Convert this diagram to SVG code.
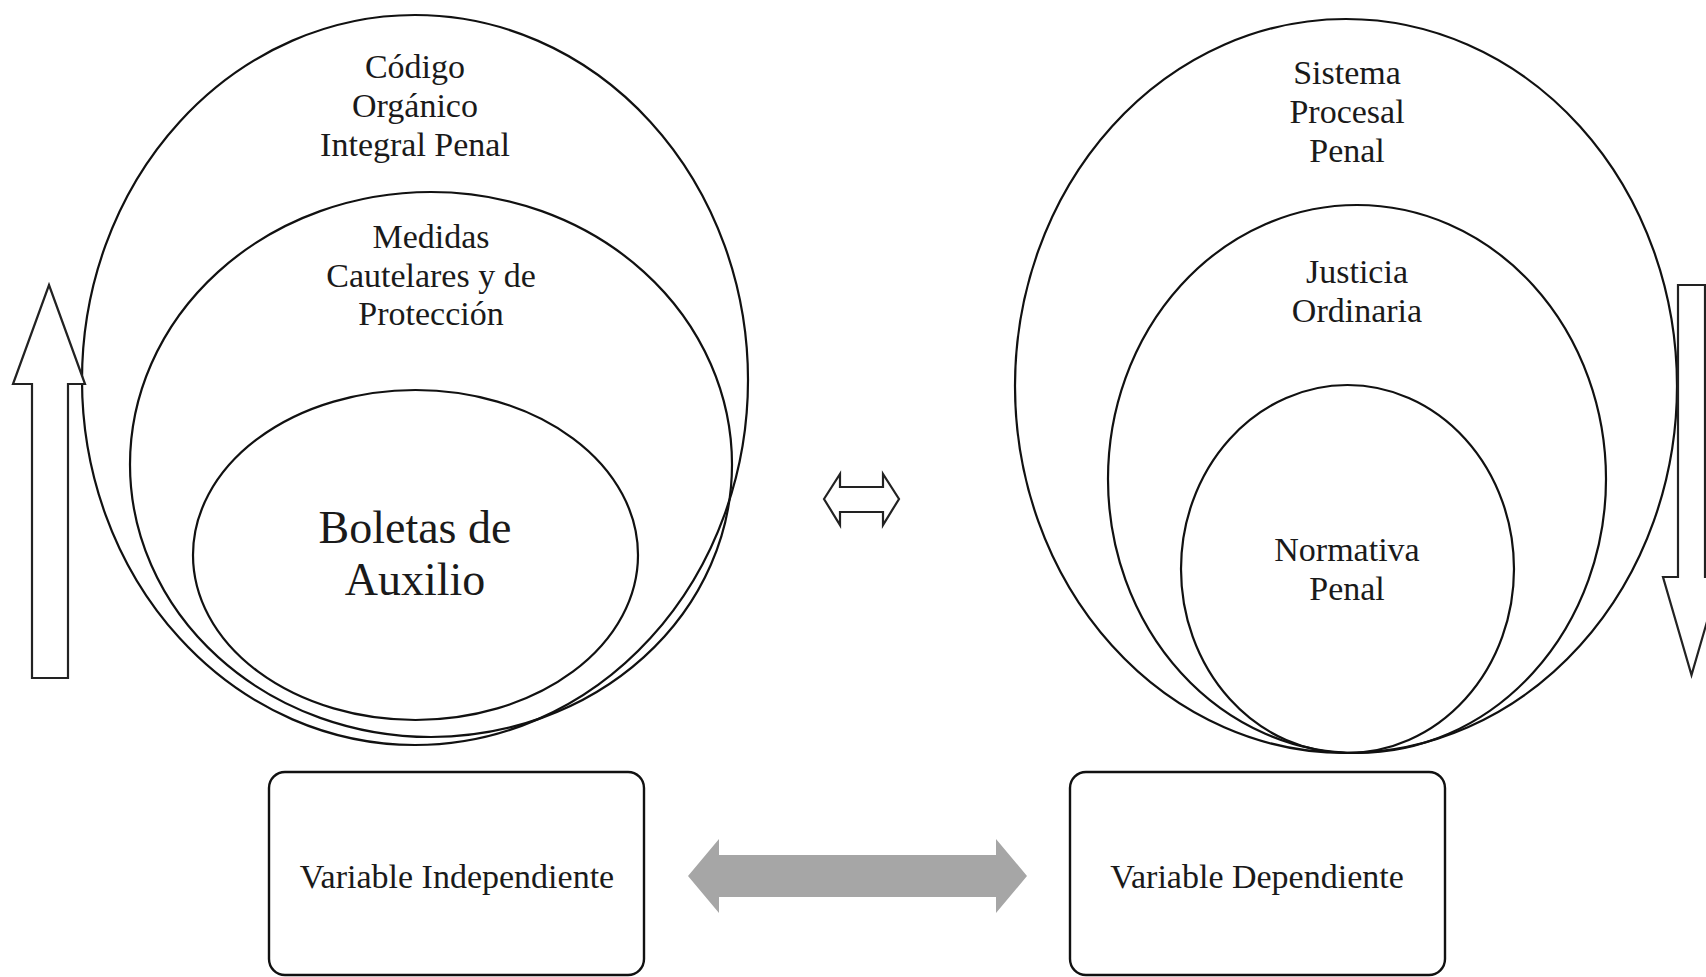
<svg xmlns="http://www.w3.org/2000/svg" width="1706" height="977" viewBox="0 0 1706 977">
<style>
.ring{fill:none;stroke:#111;stroke-width:2.2}
.box{fill:#fff;stroke:#111;stroke-width:2.4}
.hollow{fill:#fff;stroke:#222;stroke-width:2.2;stroke-linejoin:miter}
.t{font-family:"Liberation Serif","Times New Roman",serif;font-size:34px;fill:#1a1a1a;text-anchor:middle}
.big{font-size:46px}
</style>
<rect width="1706" height="977" fill="#fff"/>
<g id="left-rings">
  <g id="codigo"><ellipse class="ring" cx="415" cy="380" rx="333" ry="365"/>
    <text class="t" x="415" y="78">Código</text>
    <text class="t" x="415" y="117">Orgánico</text>
    <text class="t" x="415" y="156">Integral Penal</text></g>
  <g id="medidas"><ellipse class="ring" cx="431" cy="464.5" rx="301" ry="272.5"/>
    <text class="t" x="431" y="248">Medidas</text>
    <text class="t" x="431" y="287">Cautelares y de</text>
    <text class="t" x="431" y="325">Protección</text></g>
  <g id="boletas"><ellipse class="ring" cx="415.5" cy="555" rx="222.5" ry="165"/>
    <text class="t big" x="415" y="543">Boletas de</text>
    <text class="t big" x="415" y="595">Auxilio</text></g>
</g>
<g id="right-rings">
  <g id="sistema"><ellipse class="ring" cx="1346" cy="386" rx="331" ry="367"/>
    <text class="t" x="1347" y="84">Sistema</text>
    <text class="t" x="1347" y="123">Procesal</text>
    <text class="t" x="1347" y="162">Penal</text></g>
  <g id="justicia"><ellipse class="ring" cx="1357" cy="479" rx="249" ry="274"/>
    <text class="t" x="1357" y="283">Justicia</text>
    <text class="t" x="1357" y="322">Ordinaria</text></g>
  <g id="normativa"><ellipse class="ring" cx="1347.5" cy="569" rx="166.5" ry="184"/>
    <text class="t" x="1347" y="561">Normativa</text>
    <text class="t" x="1347" y="600">Penal</text></g>
</g>
<g id="var-indep"><rect class="box" x="269" y="772" width="375" height="203" rx="16"/>
  <text class="t" x="457" y="888">Variable Independiente</text></g>
<g id="var-dep"><rect class="box" x="1070" y="772" width="375" height="203" rx="16"/>
  <text class="t" x="1257" y="888">Variable Dependiente</text></g>
<g id="connectors">
  <polygon class="hollow" points="49,285 85,384 68,384 68,678 32,678 32,384 13,384"/>
  <polygon class="hollow" points="1678,285 1705,285 1705,577 1720,577 1691.5,675 1663,577 1678,577"/>
  <polygon class="hollow" points="824,499 840,474 840,487 883,487 883,474 899,499 883,525 883,512 840,512 840,525"/>
  <polygon fill="#a6a6a6" points="688,876 719,839 719,855 996,855 996,839 1027,876 996,913 996,897 719,897 719,913"/>
</g>
</svg>
